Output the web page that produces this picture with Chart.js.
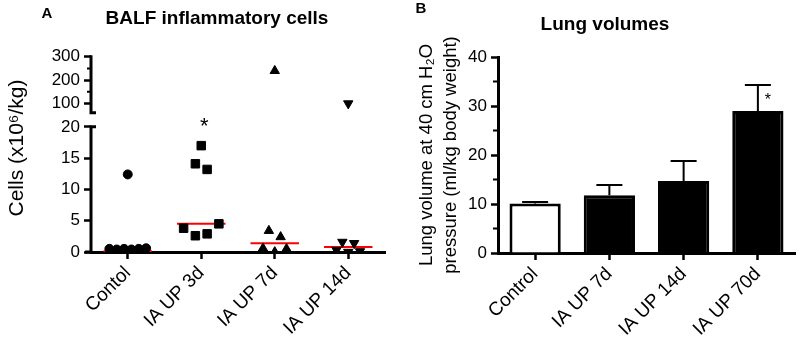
<!DOCTYPE html>
<html>
<head>
<meta charset="utf-8">
<script src="https://cdn.jsdelivr.net/npm/chart.js@4.4.0/dist/chart.umd.min.js"></script>
<style>
  body { margin: 0; background: #fff; }
  .panel { position: absolute; top: 0; width: 400px; height: 340px; }
</style>
</head>
<body>
<div class="panel" style="left:0"><canvas id="cells" width="400" height="340"></canvas></div>
<div class="panel" style="left:400px"><canvas id="volumes" width="400" height="340"></canvas></div>
<script>
// Panel A - BALF inflammatory cells (x10^6/kg), one array per group
const categoriesA = ['Contol', 'IA UP 3d', 'IA UP 7d', 'IA UP 14d'];
const cellsControl = [0.5, 0.4, 0.5, 0.4, 0.5, 0.6, 12.4];
const cellsUp3d = [17.0, 14.1, 13.2, 3.8, 2.6, 2.9, 4.5];
const cellsUp7d = [240, 3.4, 2.4, 0.6, 0.0, 0.5];
const cellsUp14d = [100, 1.6, 1.4, 0.3, 0.0, 0.1];
const cellsMedian = [0.1, 4.5, 1.4, 0.8];
const cellsStars = ['', '*', '', ''];
const cellsTicksLow = [0, 5, 10, 15, 20];
const cellsTicksHigh = [100, 200, 300];

// Panel B - lung volumes, mean and SEM
const categoriesB = ['Control', 'IA UP 7d', 'IA UP 14d', 'IA UP 70d'];
const volumeMean = [10.1, 11.8, 14.7, 29.0];
const volumeSem = [0.3, 2.1, 4.1, 5.3];
const volumeStars = ['', '', '', '*'];
const volumeTicks = [0, 10, 20, 30, 40];

Chart.defaults.font.family = "'Liberation Sans', Arial, sans-serif";
Chart.defaults.font.size = 17;
Chart.defaults.color = '#000';

const BREAK = 20; // values above this sit on the upper segment of the broken axis

// spread points of similar value side by side, like a column scatter plot
function spread(values, group) {
  const sorted = values.map((v, i) => ({ v, i })).sort((a, b) => a.v - b.v);
  const clusters = [];
  sorted.forEach(it => {
    const last = clusters[clusters.length - 1];
    if (last && it.v <= BREAK && it.v - last[last.length - 1].v <= 1.05) last.push(it);
    else clusters.push([it]);
  });
  const out = [];
  clusters.forEach(c => {
    c.sort((a, b) => a.i - b.i);
    const step = c.length > 1 ? Math.min(0.16, 0.5 / (c.length - 1)) : 0;
    c.forEach((it, k) => out.push({ x: group + (k - (c.length - 1) / 2) * step, y: it.v }));
  });
  return out;
}

function scatterSets(values, group, shape, radius, rotation) {
  const pts = spread(values, group);
  const base = {
    type: 'scatter', pointStyle: shape, pointRadius: radius, rotation: rotation || 0,
    backgroundColor: '#000', borderColor: '#000', borderWidth: 1,
  };
  return [
    { ...base, data: pts.filter(p => p.y <= BREAK), yAxisID: 'yLow' },
    { ...base, data: pts.filter(p => p.y > BREAK), yAxisID: 'yHigh' },
  ];
}

const medianLines = cellsMedian.map((m, i) => ({
  type: 'line',
  data: [{ x: i - 0.33, y: m }, { x: i + 0.33, y: m }],
  borderColor: '#f00', borderWidth: 2, pointRadius: 0, yAxisID: 'yLow',
}));

const tickGrid = { drawOnChartArea: false, tickLength: 7, tickWidth: 2.5, tickColor: '#000' };
const xTicks = { minRotation: 45, maxRotation: 45, padding: 3, font: { size: 19 } };

const panelLetter = (letter, x, y) => ({
  id: 'letter' + letter,
  afterDraw(chart) {
    const ctx = chart.ctx;
    ctx.save();
    ctx.font = "bold 15px 'Liberation Sans', Arial, sans-serif";
    ctx.fillStyle = '#000';
    ctx.textAlign = 'center';
    ctx.fillText(letter, x, y);
    ctx.restore();
  },
});

// broken y axis, y title and stars for panel A
const cellsDecor = {
  id: 'cellsDecor',
  beforeDatasetsDraw(chart) {
    const { ctx, chartArea, scales } = chart;
    const lo = scales.yLow, hi = scales.yHigh;
    const x = chartArea.left;
    ctx.save();
    ctx.strokeStyle = '#000';
    ctx.lineWidth = 3;
    ctx.beginPath();
    ctx.moveTo(x, hi.getPixelForValue(300) - 1.5);
    ctx.lineTo(x, hi.getPixelForValue(60));
    ctx.moveTo(x - 1.5, hi.getPixelForValue(60));
    ctx.lineTo(x + 5, hi.getPixelForValue(60));
    ctx.moveTo(x, lo.getPixelForValue(20));
    ctx.lineTo(x, lo.getPixelForValue(0));
    ctx.moveTo(x - 1.5, lo.getPixelForValue(20));
    ctx.lineTo(x + 5, lo.getPixelForValue(20));
    ctx.moveTo(x - 6, lo.getPixelForValue(0));
    ctx.lineTo(x, lo.getPixelForValue(0));
    ctx.stroke();
    ctx.lineWidth = 2;
    ctx.beginPath();
    [150, 250].forEach(v => {
      ctx.moveTo(x, hi.getPixelForValue(v));
      ctx.lineTo(x - 4, hi.getPixelForValue(v));
    });
    ctx.stroke();
    ctx.restore();
  },
  afterDraw(chart) {
    const { ctx, scales } = chart;
    ctx.save();
    ctx.fillStyle = '#000';
    ctx.textAlign = 'center';
    ctx.font = "22px 'Liberation Sans', Arial, sans-serif";
    cellsStars.forEach((s, i) => {
      if (s) ctx.fillText(s, scales.x.getPixelForValue(i) + 3, scales.yLow.getPixelForValue(20) + 6);
    });
    ctx.translate(17, 148);
    ctx.rotate(-Math.PI / 2);
    ctx.font = "21px 'Liberation Sans', Arial, sans-serif";
    ctx.textBaseline = 'middle';
    ctx.fillText('Cells (x10⁶/kg)', 0, 0);
    ctx.restore();
  },
};

new Chart(document.getElementById('cells'), {
  type: 'scatter',
  data: {
    datasets: [
      ...scatterSets(cellsControl, 0, 'circle', 4.5),
      ...scatterSets(cellsUp3d, 1, 'rect', 6),
      ...scatterSets(cellsUp7d, 2, 'triangle', 5.4),
      ...scatterSets(cellsUp14d, 3, 'triangle', 5.4, 180),
      ...medianLines,
    ],
  },
  options: {
    responsive: false,
    animation: false,
    events: [],
    layout: { padding: { left: 49, right: 15, top: 0, bottom: 0 } },
    plugins: {
      legend: { display: false },
      tooltip: { enabled: false },
      title: {
        display: true, text: 'BALF inflammatory cells', color: '#000',
        font: { size: 19, weight: 'bold' }, padding: { top: 7, bottom: 27 },
      },
    },
    scales: {
      x: {
        type: 'linear', min: -0.5, max: 3.5,
        afterBuildTicks: s => { s.ticks = categoriesA.map((c, i) => ({ value: i })); },
        ticks: { ...xTicks, callback: v => categoriesA[v] },
        grid: tickGrid,
        border: { width: 3, color: '#000' },
        afterFit: s => { s.height = 88; },
      },
      yLow: {
        type: 'linear', position: 'left', stack: 'cells', stackWeight: 25, min: 0, max: 20,
        afterBuildTicks: s => { s.ticks = cellsTicksLow.map(v => ({ value: v })); },
        ticks: { padding: 4 },
        grid: tickGrid,
        border: { display: false },
        afterFit: s => { s.width = 42; },
      },
      yHigh: {
        type: 'linear', position: 'left', stack: 'cells', stackWeight: 14, min: 0, max: 300,
        afterBuildTicks: s => { s.ticks = cellsTicksHigh.map(v => ({ value: v })); },
        ticks: { padding: 4 },
        grid: tickGrid,
        border: { display: false },
        afterFit: s => { s.width = 42; },
      },
    },
  },
  plugins: [cellsDecor, panelLetter('A', 47, 18)],
});

// error bars, minor ticks and star for panel B
const volumeDecor = {
  id: 'volumeDecor',
  afterDatasetsDraw(chart) {
    const { ctx, scales, chartArea } = chart;
    const meta = chart.getDatasetMeta(0);
    ctx.save();
    ctx.strokeStyle = '#000';
    ctx.lineWidth = 2;
    ctx.beginPath();
    volumeMean.forEach((m, i) => {
      const bx = meta.data[i].x;
      const top = scales.y.getPixelForValue(m + volumeSem[i]);
      ctx.moveTo(bx, scales.y.getPixelForValue(m));
      ctx.lineTo(bx, top);
      ctx.moveTo(bx - 13, top);
      ctx.lineTo(bx + 13, top);
    });
    [5, 15, 25, 35].forEach(v => {
      ctx.moveTo(chartArea.left, scales.y.getPixelForValue(v));
      ctx.lineTo(chartArea.left - 5, scales.y.getPixelForValue(v));
    });
    ctx.stroke();
    ctx.fillStyle = '#000';
    ctx.textAlign = 'center';
    ctx.font = "16px 'Liberation Sans', Arial, sans-serif";
    volumeStars.forEach((s, i) => {
      if (s) ctx.fillText(s, meta.data[i].x + 10, scales.y.getPixelForValue(volumeMean[i] + volumeSem[i]) + 20);
    });
    ctx.restore();
  },
};

new Chart(document.getElementById('volumes'), {
  type: 'bar',
  data: {
    labels: categoriesB,
    datasets: [{
      data: volumeMean,
      backgroundColor: categoriesB.map((c, i) => (i === 0 ? '#fff' : '#000')),
      borderColor: '#000',
      borderWidth: 3,
      barPercentage: 0.69,
      categoryPercentage: 1,
    }],
  },
  options: {
    responsive: false,
    animation: false,
    events: [],
    layout: { padding: { left: 15, right: 5, top: 0, bottom: 0 } },
    plugins: {
      legend: { display: false },
      tooltip: { enabled: false },
      title: {
        display: true, text: 'Lung volumes', color: '#000',
        font: { size: 19, weight: 'bold' }, padding: { top: 13.6, bottom: 20.6 },
      },
    },
    scales: {
      x: {
        grid: { ...tickGrid, offset: false },
        ticks: xTicks,
        border: { width: 3, color: '#000' },
        afterFit: s => { s.height = 87; },
      },
      y: {
        min: 0, max: 40,
        afterBuildTicks: s => { s.ticks = volumeTicks.map(v => ({ value: v })); },
        ticks: { padding: 4 },
        grid: tickGrid,
        border: { width: 3, color: '#000' },
        title: {
          display: true,
          text: ['Lung volume at 40 cm H₂O', 'pressure (ml/kg body weight)'],
          font: { size: 18.5, lineHeight: 1.3 },
          padding: { top: 0, bottom: 0 },
        },
        afterFit: s => { s.width = 83; },
      },
    },
  },
  plugins: [volumeDecor, panelLetter('B', 21, 13)],
});
</script>
</body>
</html>
